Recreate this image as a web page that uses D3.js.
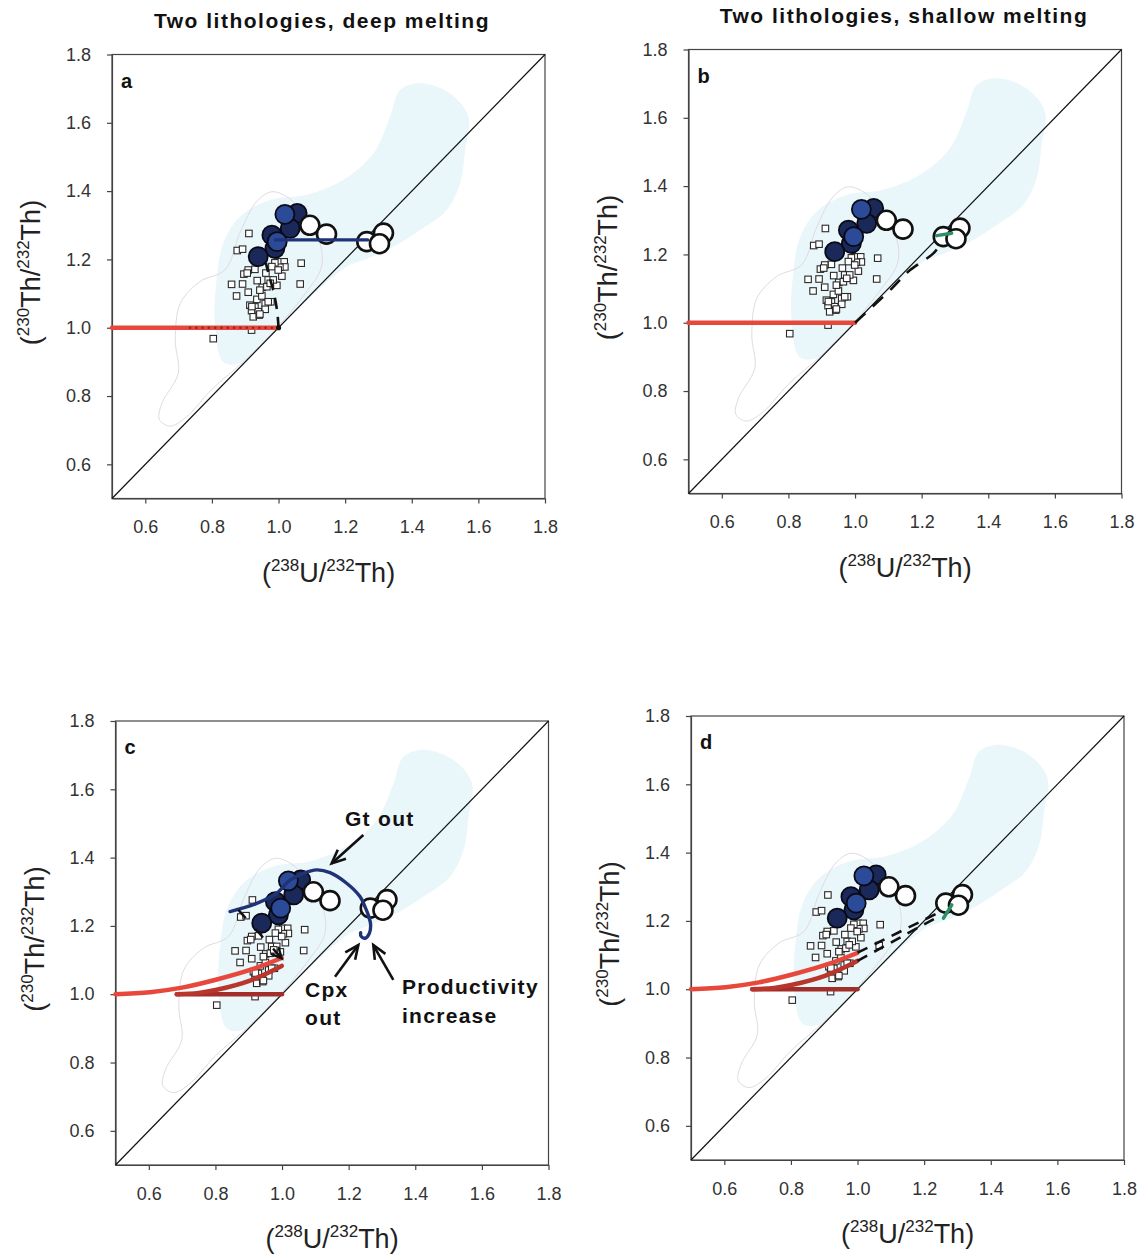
<!DOCTYPE html>
<html>
<head>
<meta charset="utf-8">
<script src="https://cdn.jsdelivr.net/npm/d3@7"></script>
<style>
  body { margin: 0; background: #fff; }
  svg { display: block; }
  text { font-family: "Liberation Sans", Arial, Helvetica, sans-serif; }
</style>
</head>
<body>
<svg id="fig" width="1145" height="1257"></svg>
<script>
// ---- axis ticks and labels ----
const axisTicks = [0.6, 0.8, 1.0, 1.2, 1.4, 1.6, 1.8];
const axisTickLabels = ["0.6", "0.8", "1.0", "1.2", "1.4", "1.6", "1.8"];
const columnTitles = ["Two lithologies, deep melting", "Two lithologies, shallow melting"];
const panelLetters = ["a", "b", "c", "d"];

// ---- sample data: (238U/232Th), (230Th/232Th) ----
const squares = [
  [0.911,1.276],[0.876,1.226],[0.892,1.230],[1.068,1.189],[1.065,1.128],[1.002,1.193],
  [1.017,1.193],[1.019,1.178],[1.004,1.177],[0.989,1.190],[0.980,1.179],[0.929,1.171],
  [0.909,1.169],[0.896,1.157],[0.906,1.160],[0.936,1.138],[0.969,1.140],[1.010,1.151],
  [0.859,1.127],[0.892,1.128],[0.909,1.104],[0.874,1.093],[0.951,1.118],[0.965,1.120],
  [0.995,1.124],[0.935,1.083],[0.950,1.093],[0.960,1.071],[0.977,1.076],[0.914,1.066],
  [0.929,1.061],[0.919,1.050],[0.939,1.047],[0.960,1.054],[0.924,1.032],[0.942,1.037],
  [0.919,0.993],[0.804,0.968],[0.984,1.140],[0.999,1.169],[0.962,1.160],[0.944,1.110],
  [0.975,1.130],[0.969,1.076],[0.920,1.062],[0.944,1.040]
];
const filledNavy = [[1.056,1.335],[1.035,1.291],[0.980,1.271],[0.989,1.232],[0.939,1.208]];
const filledBlue = [[1.019,1.332],[0.996,1.252]];
const openCircles = [[1.094,1.300],[1.144,1.274],[1.265,1.252],[1.315,1.277],[1.303,1.246]];

// shaded compositional field and faint outlined field
const mantleField = [
  [0.834,0.900],[0.809,1.013],[0.814,1.140],[0.834,1.247],[0.884,1.325],[0.974,1.374],
  [1.085,1.389],[1.195,1.433],[1.285,1.511],[1.335,1.618],[1.365,1.696],[1.425,1.716],
  [1.515,1.686],[1.570,1.618],[1.560,1.520],[1.545,1.423],[1.505,1.345],[1.425,1.286],
  [1.345,1.237],[1.255,1.198],[1.205,1.179],[1.065,1.061],[0.944,0.944],[0.884,0.896]
];
const outlineField = [
  [0.980,1.398],[1.030,1.380],[1.085,1.320],[1.125,1.245],[1.128,1.175],[1.080,1.100],
  [1.000,1.005],[0.900,0.905],[0.800,0.820],[0.724,0.739],[0.674,0.712],[0.642,0.732],
  [0.650,0.779],[0.699,0.867],[0.690,0.964],[0.705,1.071],[0.764,1.135],[0.840,1.170],
  [0.885,1.280],[0.935,1.370]
];

// ---- model curves ----
const meltFlat = [[0.5,1.0],[1.0,1.0]];
const meltDotsA = [[0.734,1.0],[1.0,1.0]];
const ingrowthA = [[1.0,1.0],[0.996,1.047],[0.984,1.110],[0.971,1.154],[0.962,1.190]];
const navyA = [[0.990,1.257],[1.268,1.257]];
const ingrowthB = [[1.0,1.0],[1.110,1.100],[1.160,1.150],[1.235,1.203],[1.255,1.228]];
const greenB = [[1.245,1.255],[1.290,1.262]];
const redUpper = [[0.5,1.0],[0.604,1.006],[0.704,1.020],[0.804,1.043],[0.904,1.071],[0.999,1.106]];
const redMiddle = [[0.684,1.0],[0.750,1.004],[0.804,1.013],[0.904,1.040],[0.999,1.083]];
const redLower = [[0.684,1.0],[1.0,1.0]];
const navyC = [
  [0.844,1.242],[0.924,1.266],[0.984,1.296],[1.024,1.334],[1.064,1.354],[1.104,1.364],
  [1.144,1.356],[1.194,1.325],[1.234,1.286],[1.249,1.256],[1.259,1.232],[1.266,1.203],
  [1.262,1.178],[1.249,1.164],[1.237,1.170],[1.236,1.180]
];
const dashedC = [[0.869,1.247],[0.999,1.105]];
const dashedUpperD = [[1.0,1.107],[1.245,1.225]];
const dashedLowerD = [[1.0,1.083],[1.245,1.214]];
const greenD = [[1.258,1.208],[1.283,1.247]];

// annotations in panel c (data coordinates)
const notesC = [
  {text: "Gt out", x: 1.189, y: 1.493},
  {text: "Cpx", x: 1.069, y: 0.992},
  {text: "out", x: 1.069, y: 0.910},
  {text: "Productivity", x: 1.360, y: 1.001},
  {text: "increase", x: 1.360, y: 0.916}
];
const arrowsC = [
  [[1.244,1.466],[1.149,1.383]],
  [[1.159,1.051],[1.229,1.144]],
  [[1.334,1.042],[1.274,1.144]]
];

// ---- layout ----
const W = 433, H = 444;
const layout = {
  a: {left: 112, top: 54.5},
  b: {left: 688.5, top: 49.5},
  c: {left: 115.5, top: 721},
  d: {left: 691, top: 716}
};
const COL = {
  field: "#e9f6fa", outline: "#e0dae5", red: "#e8473b", redMid: "#b9362d", redDark: "#a22e29",
  navy: "#1f3377", circNavy: "#1a285a", circBlue: "#2b4a98", green: "#2e8f66", tick: "#333"
};

const svg = d3.select("#fig");

// titles
const titleX = [322, 904], titleY = [28, 23];
columnTitles.forEach((t, i) => {
  svg.append("text").attr("x", titleX[i]).attr("y", titleY[i])
    .attr("text-anchor", "middle").attr("font-size", 21).attr("font-weight", "bold")
    .attr("letter-spacing", 1.5).attr("fill", "#111").text(t);
});

function ratioLabel(sel, supA, elA, supB, elB) {
  sel.append("tspan").text("(");
  sel.append("tspan").attr("font-size", 17).attr("dy", -11).text(supA);
  sel.append("tspan").attr("dy", 11).text(elA + "/");
  sel.append("tspan").attr("font-size", 17).attr("dy", -11).text(supB);
  sel.append("tspan").attr("dy", 11).text(elB + ")");
}

function arrow(g, p0, p1) {
  const [xa, ya] = p0, [xb, yb] = p1;
  const ang = Math.atan2(yb - ya, xb - xa);
  const len = 15, spread = 0.42;
  g.append("line").attr("x1", xa).attr("y1", ya).attr("x2", xb).attr("y2", yb)
    .attr("stroke", "#111").attr("stroke-width", 2.6);
  const head = [
    [xb - len * Math.cos(ang - spread), yb - len * Math.sin(ang - spread)],
    [xb, yb],
    [xb - len * Math.cos(ang + spread), yb - len * Math.sin(ang + spread)]
  ];
  g.append("path").attr("d", d3.line()(head)).attr("fill", "none")
    .attr("stroke", "#111").attr("stroke-width", 2.6).attr("stroke-linejoin", "miter");
}

function drawPanel(key, idx) {
  const L = layout[key];
  const g = svg.append("g").attr("transform", `translate(${L.left},${L.top})`);
  const x = d3.scaleLinear().domain([0.5, 1.8]).range([0, W]);
  const y = d3.scaleLinear().domain([0.5, 1.8]).range([H, 0]);
  const line = d3.line().x(d => x(d[0])).y(d => y(d[1]));
  const smooth = d3.line().x(d => x(d[0])).y(d => y(d[1])).curve(d3.curveCatmullRom.alpha(0.5));
  const closed = d3.line().x(d => x(d[0])).y(d => y(d[1])).curve(d3.curveCatmullRomClosed.alpha(0.5));

  // fields
  g.append("path").attr("d", closed(mantleField)).attr("fill", COL.field).attr("stroke", "none");
  g.append("path").attr("d", closed(outlineField)).attr("fill", "none")
    .attr("stroke", COL.outline).attr("stroke-width", 1);

  // frame
  g.append("rect").attr("x", 0).attr("y", 0).attr("width", W).attr("height", H)
    .attr("fill", "none").attr("stroke", "#444").attr("stroke-width", 1.2);

  // axes
  const fmt = (d) => axisTickLabels[axisTicks.indexOf(d)];
  const ax = g.append("g").attr("transform", `translate(0,${H})`)
    .call(d3.axisBottom(x).tickValues(axisTicks).tickFormat(fmt).tickSize(5).tickSizeOuter(0).tickPadding(17));
  const ay = g.append("g")
    .call(d3.axisLeft(y).tickValues(axisTicks).tickFormat(fmt).tickSize(5).tickSizeOuter(0).tickPadding(16));
  [ax, ay].forEach(a => {
    a.select(".domain").attr("stroke", "#444").attr("stroke-width", 1.2);
    a.selectAll(".tick line").attr("stroke", "#444").attr("stroke-width", 1.2);
    a.selectAll(".tick text").attr("font-size", 18).attr("fill", COL.tick)
      .attr("font-family", "Liberation Sans, Arial, sans-serif");
  });

  // axis titles
  const xl = g.append("text").attr("x", W / 2).attr("y", H + 83).attr("text-anchor", "middle")
    .attr("font-size", 27).attr("fill", "#222");
  ratioLabel(xl, "238", "U", "232", "Th");
  const yl = g.append("text").attr("transform", `translate(-72,${H / 2 - 4}) rotate(-90)`)
    .attr("text-anchor", "middle").attr("font-size", 27).attr("fill", "#222");
  ratioLabel(yl, "230", "Th", "232", "Th");

  // panel letter
  g.append("text").attr("x", 9).attr("y", 33).attr("font-size", 20).attr("font-weight", "bold")
    .attr("fill", "#111").text(panelLetters[idx]);

  // equiline
  g.append("path").attr("d", line([[0.5, 0.5], [1.8, 1.8]])).attr("stroke", "#111")
    .attr("stroke-width", 1.2).attr("fill", "none");

  // samples
  const s = 6.5;
  g.append("g").selectAll("rect").data(squares).join("rect")
    .attr("x", d => x(d[0]) - s / 2).attr("y", d => y(d[1]) - s / 2)
    .attr("width", s).attr("height", s).attr("fill", "#fff")
    .attr("stroke", "#2a2a2a").attr("stroke-width", 1.1);

  const curves = g.append("g").attr("fill", "none").attr("stroke-linecap", "round");

  if (key === "a" || key === "b") {
    curves.append("path").attr("d", line(meltFlat)).attr("stroke", COL.red).attr("stroke-width", 4.5);
  }
  if (key === "a") {
    curves.append("path").attr("d", line(meltDotsA)).attr("stroke", "#8e2a2a")
      .attr("stroke-width", 2.6).attr("stroke-dasharray", "0.1,6.2");
    curves.append("path").attr("d", smooth(ingrowthA)).attr("stroke", "#111")
      .attr("stroke-width", 2.6).attr("stroke-dasharray", "11,8").attr("stroke-linecap", "butt");
  }
  if (key === "b") {
    curves.append("path").attr("d", smooth(ingrowthB)).attr("stroke", "#111")
      .attr("stroke-width", 2.6).attr("stroke-dasharray", "14,10").attr("stroke-linecap", "butt");
  }
  if (key === "c" || key === "d") {
    curves.append("path").attr("d", line(redLower)).attr("stroke", COL.redDark).attr("stroke-width", 4.5);
    curves.append("path").attr("d", smooth(redMiddle)).attr("stroke", COL.redMid).attr("stroke-width", 4.5);
    curves.append("path").attr("d", smooth(redUpper)).attr("stroke", COL.red).attr("stroke-width", 4.5);
  }
  if (key === "d") {
    [dashedUpperD, dashedLowerD].forEach(p => {
      curves.append("path").attr("d", line(p)).attr("stroke", "#111").attr("stroke-width", 2.6)
        .attr("stroke-dasharray", "11,8").attr("stroke-linecap", "butt");
    });
  }

  // data circles
  const r = 9.5;
  const circ = g.append("g");
  circ.selectAll("circle.nv").data(filledNavy).join("circle").attr("class", "nv")
    .attr("cx", d => x(d[0])).attr("cy", d => y(d[1])).attr("r", r)
    .attr("fill", COL.circNavy).attr("stroke", "#0a0a14").attr("stroke-width", 1.8);
  circ.selectAll("circle.bl").data(filledBlue).join("circle").attr("class", "bl")
    .attr("cx", d => x(d[0])).attr("cy", d => y(d[1])).attr("r", r)
    .attr("fill", COL.circBlue).attr("stroke", "#0a0a14").attr("stroke-width", 1.8);
  circ.selectAll("circle.op").data(openCircles).join("circle").attr("class", "op")
    .attr("cx", d => x(d[0])).attr("cy", d => y(d[1])).attr("r", r)
    .attr("fill", "#fff").attr("stroke", "#111").attr("stroke-width", 2.6);

  const top = g.append("g").attr("fill", "none").attr("stroke-linecap", "round");
  if (key === "a") {
    top.append("path").attr("d", line(navyA)).attr("stroke", COL.navy).attr("stroke-width", 3.2);
    top.append("circle").attr("cx", x(1.0)).attr("cy", y(1.0)).attr("r", 2.6).attr("fill", "#111");
  }
  if (key === "b") {
    top.append("path").attr("d", line(greenB)).attr("stroke", COL.green).attr("stroke-width", 3.5);
  }
  if (key === "c") {
    top.append("path").attr("d", smooth(navyC)).attr("stroke", COL.navy).attr("stroke-width", 3.4);
    top.append("path").attr("d", line(dashedC)).attr("stroke", "#111").attr("stroke-width", 2.4)
      .attr("stroke-dasharray", "11,15").attr("stroke-linecap", "butt");
    const p0 = [x(dashedC[0][0]), y(dashedC[0][1])], p1 = [x(dashedC[1][0]), y(dashedC[1][1])];
    const ang = Math.atan2(p1[1] - p0[1], p1[0] - p0[0]);
    const hl = 11, sp = 0.45;
    top.append("path").attr("d", d3.line()([
      [p1[0] - hl * Math.cos(ang - sp), p1[1] - hl * Math.sin(ang - sp)], p1,
      [p1[0] - hl * Math.cos(ang + sp), p1[1] - hl * Math.sin(ang + sp)]
    ])).attr("stroke", "#111").attr("stroke-width", 2.4);

    const ann = g.append("g");
    arrowsC.forEach(a => arrow(ann, [x(a[0][0]), y(a[0][1])], [x(a[1][0]), y(a[1][1])]));
    notesC.forEach(n => {
      ann.append("text").attr("x", x(n.x)).attr("y", y(n.y)).attr("font-size", 21)
        .attr("font-weight", "bold").attr("letter-spacing", 1.3).attr("fill", "#111").text(n.text);
    });
  }
  if (key === "d") {
    top.append("path").attr("d", line(greenD)).attr("stroke", COL.green).attr("stroke-width", 3.5);
  }
}

["a", "b", "c", "d"].forEach((k, i) => drawPanel(k, i));
</script>
</body>
</html>
